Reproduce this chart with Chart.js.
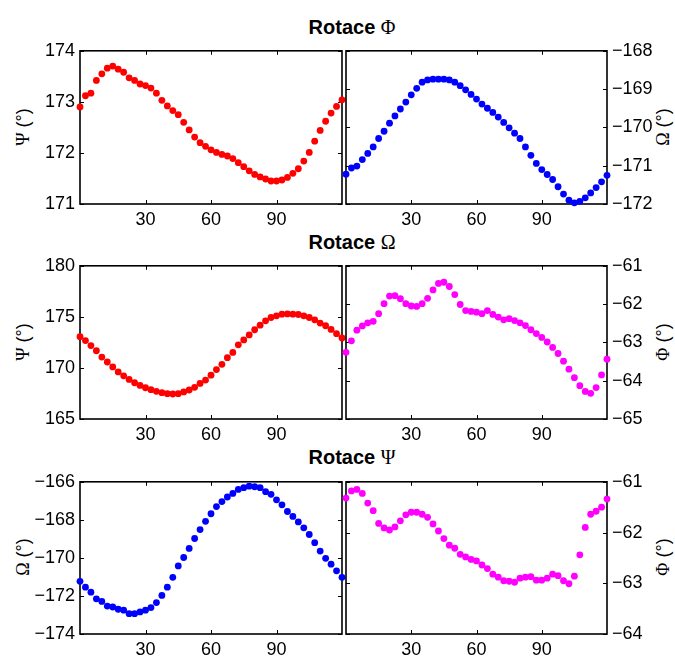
<!DOCTYPE html>
<html>
<head>
<meta charset="utf-8">
<script src="https://cdn.jsdelivr.net/npm/chart.js@4.4.1/dist/chart.umd.min.js"></script>
<style>
    body { margin: 0; background: #fff; width: 675px; height: 657px; position: relative; overflow: hidden;
           font-family: "Liberation Sans", Arial, sans-serif; color: #000; }
    canvas { position: absolute; }
    .title { position: absolute; left: 0; width: 704px; text-align: center; font-weight: bold;
             font-size: 20px; line-height: 20px; white-space: nowrap; }
    .ylab { position: absolute; font-size: 18px; line-height: 18px; white-space: nowrap;
            transform: translate(-50%, -50%) rotate(-90deg); }
    .gr { font-family: "Liberation Serif", "DejaVu Serif", serif; font-weight: normal; }
</style>
</head>
<body>

<div class="title" style="top:17px">Rotace <span class="gr">&Phi;</span></div>
<div class="title" style="top:232px">Rotace <span class="gr">&Omega;</span></div>
<div class="title" style="top:447px">Rotace <span class="gr">&Psi;</span></div>

<div class="ylab" style="left:23px;top:127px"><span class="gr">&Psi;</span> (&deg;)</div>
<div class="ylab" style="left:663px;top:127px"><span class="gr">&Omega;</span> (&deg;)</div>
<div class="ylab" style="left:23px;top:342px"><span class="gr">&Psi;</span> (&deg;)</div>
<div class="ylab" style="left:663px;top:342px"><span class="gr">&Phi;</span> (&deg;)</div>
<div class="ylab" style="left:23px;top:557px"><span class="gr">&Omega;</span> (&deg;)</div>
<div class="ylab" style="left:663px;top:557px"><span class="gr">&Phi;</span> (&deg;)</div>

<canvas id="c1" width="350" height="200" style="left:0;top:35px"></canvas>
<canvas id="c2" width="337" height="200" style="left:338px;top:35px"></canvas>
<canvas id="c3" width="350" height="200" style="left:0;top:250px"></canvas>
<canvas id="c4" width="337" height="200" style="left:338px;top:250px"></canvas>
<canvas id="c5" width="350" height="191" style="left:0;top:466px"></canvas>
<canvas id="c6" width="337" height="191" style="left:338px;top:466px"></canvas>

<script>
// uhel rotace (x)
var angles = [0, 2.5, 5, 7.5, 10, 12.5, 15, 17.5, 20, 22.5, 25, 27.5, 30, 32.5, 35, 37.5, 40, 42.5, 45, 47.5,
    50, 52.5, 55, 57.5, 60, 62.5, 65, 67.5, 70, 72.5, 75, 77.5, 80, 82.5, 85, 87.5, 90, 92.5, 95, 97.5,
    100, 102.5, 105, 107.5, 110, 112.5, 115, 117.5, 120];
var xTicks = [30, 60, 90];

// Rotace Phi
var phiRot_psi = [172.90, 173.12, 173.17, 173.42, 173.55, 173.66, 173.70, 173.64, 173.58, 173.47,
    173.42, 173.35, 173.32, 173.27, 173.17, 173.03, 172.92, 172.83, 172.75, 172.60,
    172.45, 172.31, 172.20, 172.13, 172.06, 172.01, 171.97, 171.94, 171.89, 171.81,
    171.73, 171.65, 171.58, 171.53, 171.49, 171.45, 171.45, 171.47, 171.52, 171.60,
    171.69, 171.84, 172.01, 172.23, 172.44, 172.62, 172.78, 172.91, 173.04];
var phiRot_omega = [-171.22, -171.06, -171.01, -170.84, -170.68, -170.51, -170.29, -170.10, -169.89, -169.70,
    -169.52, -169.34, -169.15, -168.98, -168.82, -168.76, -168.74, -168.74, -168.74, -168.76,
    -168.82, -168.91, -169.02, -169.14, -169.26, -169.39, -169.50, -169.61, -169.73, -169.87,
    -170.01, -170.15, -170.29, -170.51, -170.73, -170.94, -171.10, -171.23, -171.36, -171.55,
    -171.74, -171.90, -171.97, -171.93, -171.84, -171.71, -171.57, -171.42, -171.25];

// Rotace Omega
var omegaRot_psi = [173.06, 172.68, 172.19, 171.68, 171.06, 170.58, 170.10, 169.61, 169.23, 168.87,
    168.55, 168.29, 168.06, 167.87, 167.71, 167.58, 167.48, 167.45, 167.48, 167.65,
    167.84, 168.10, 168.48, 168.81, 169.29, 169.84, 170.35, 171.00, 171.52, 172.26,
    172.74, 173.23, 173.74, 174.19, 174.61, 174.94, 175.10, 175.26, 175.29, 175.26,
    175.23, 175.10, 174.94, 174.71, 174.39, 174.13, 173.77, 173.35, 172.94];
var omegaRot_phi = [-63.26, -62.96, -62.68, -62.57, -62.49, -62.45, -62.25, -61.99, -61.79, -61.78,
    -61.86, -61.99, -62.05, -62.06, -61.99, -61.85, -61.63, -61.46, -61.43, -61.54,
    -61.75, -62.01, -62.17, -62.19, -62.21, -62.25, -62.17, -62.27, -62.34, -62.41,
    -62.38, -62.43, -62.49, -62.56, -62.67, -62.77, -62.87, -62.99, -63.13, -63.29,
    -63.49, -63.70, -63.92, -64.13, -64.28, -64.33, -64.18, -63.85, -63.44];

// Rotace Psi
var psiRot_omega = [-171.23, -171.54, -171.80, -172.15, -172.29, -172.53, -172.58, -172.70, -172.75, -172.93,
    -172.93, -172.84, -172.75, -172.61, -172.35, -171.97, -171.54, -171.02, -170.42, -169.98,
    -169.50, -168.98, -168.51, -168.08, -167.68, -167.30, -167.04, -166.80, -166.61, -166.40,
    -166.31, -166.23, -166.26, -166.31, -166.52, -166.66, -166.95, -167.21, -167.56, -167.82,
    -168.11, -168.42, -168.77, -169.20, -169.64, -170.02, -170.33, -170.68, -171.02];
var psiRot_phi = [-61.32, -61.18, -61.15, -61.23, -61.42, -61.57, -61.82, -61.91, -61.95, -61.89,
    -61.77, -61.65, -61.60, -61.60, -61.64, -61.70, -61.83, -61.97, -62.12, -62.25,
    -62.31, -62.43, -62.48, -62.53, -62.56, -62.64, -62.71, -62.82, -62.88, -62.95,
    -62.96, -62.98, -62.90, -62.88, -62.87, -62.94, -62.94, -62.90, -62.82, -62.85,
    -62.95, -63.01, -62.86, -62.44, -61.90, -61.64, -61.58, -61.50, -61.34];

// osy y
var yTicks1 = [171, 172, 173, 174];
var yTicks2 = [-172, -171, -170, -169, -168];
var yTicks3 = [165, 170, 175, 180];
var yTicks4 = [-65, -64, -63, -62, -61];
var yTicks5 = [-174, -172, -170, -168, -166];
var yTicks6 = [-64, -63, -62, -61];

Chart.defaults.color = '#000';
Chart.defaults.font.family = '"Liberation Sans", Arial, sans-serif';
Chart.defaults.font.size = 18;
Chart.defaults.plugins.legend.display = false;
Chart.defaults.plugins.tooltip.enabled = false;
Chart.defaults.animation = false;

// ramecek a tick znacky dovnitr (jako v matlabu)
var boxPlugin = {
    id: 'box',
    beforeDatasetsDraw: function (chart) {
        var ctx = chart.ctx, a = chart.chartArea;
        var x = chart.scales.x, y = chart.scales.y;
        ctx.save();
        ctx.strokeStyle = '#000';
        ctx.lineWidth = 1;
        x.ticks.forEach(function (t) {
            var px = Math.round(x.getPixelForValue(t.value)) + 0.5;
            ctx.beginPath();
            ctx.moveTo(px, a.bottom); ctx.lineTo(px, a.bottom - 4);
            ctx.moveTo(px, a.top); ctx.lineTo(px, a.top + 4);
            ctx.stroke();
        });
        y.ticks.forEach(function (t) {
            var py = Math.round(y.getPixelForValue(t.value)) + 0.5;
            ctx.beginPath();
            ctx.moveTo(a.left, py); ctx.lineTo(a.left + 4, py);
            ctx.moveTo(a.right, py); ctx.lineTo(a.right - 4, py);
            ctx.stroke();
        });
        ctx.lineWidth = 1.6;
        ctx.strokeRect(a.left, a.top, a.right - a.left, a.bottom - a.top);
        ctx.restore();
    }
};

function fmt(v) {
    return String(v).replace('-', '\u2212');
}

function makePanel(id, values, color, yTicks, side, row) {
    var padTop = row === 0 ? 15 : 14;
    var xH = row === 2 ? 23 : 31;
    var pts = values.map(function (v, i) { return {x: angles[i], y: v}; });

    return new Chart(document.getElementById(id), {
        type: 'scatter',
        data: {
            datasets: [{
                data: pts,
                backgroundColor: color,
                borderWidth: 0,
                pointRadius: 3.4,
                clip: false
            }]
        },
        options: {
            responsive: false,
            layout: {
                padding: {
                    top: padTop,
                    bottom: 0,
                    left: side === 'left' ? 0 : 8,
                    right: side === 'left' ? 8 : 0
                }
            },
            scales: {
                x: {
                    type: 'linear',
                    min: 0,
                    max: 120,
                    grid: {display: false, drawTicks: false},
                    border: {display: false},
                    afterBuildTicks: function (s) {
                        s.ticks = xTicks.map(function (v) { return {value: v}; });
                    },
                    afterFit: function (s) { s.height = xH; },
                    ticks: {padding: 5, maxRotation: 0, callback: fmt}
                },
                y: {
                    type: 'linear',
                    position: side,
                    min: yTicks[0],
                    max: yTicks[yTicks.length - 1],
                    grid: {display: false, drawTicks: false},
                    border: {display: false},
                    afterBuildTicks: function (s) {
                        s.ticks = yTicks.map(function (v) { return {value: v}; });
                    },
                    afterFit: function (s) { s.width = side === 'left' ? 80 : 68; },
                    ticks: {padding: 5, callback: fmt}
                }
            }
        },
        plugins: [boxPlugin]
    });
}

makePanel('c1', phiRot_psi, '#ff0000', yTicks1, 'left', 0);
makePanel('c2', phiRot_omega, '#0000ff', yTicks2, 'right', 0);
makePanel('c3', omegaRot_psi, '#ff0000', yTicks3, 'left', 1);
makePanel('c4', omegaRot_phi, '#ff00ff', yTicks4, 'right', 1);
makePanel('c5', psiRot_omega, '#0000ff', yTicks5, 'left', 2);
makePanel('c6', psiRot_phi, '#ff00ff', yTicks6, 'right', 2);
</script>
</body>
</html>
